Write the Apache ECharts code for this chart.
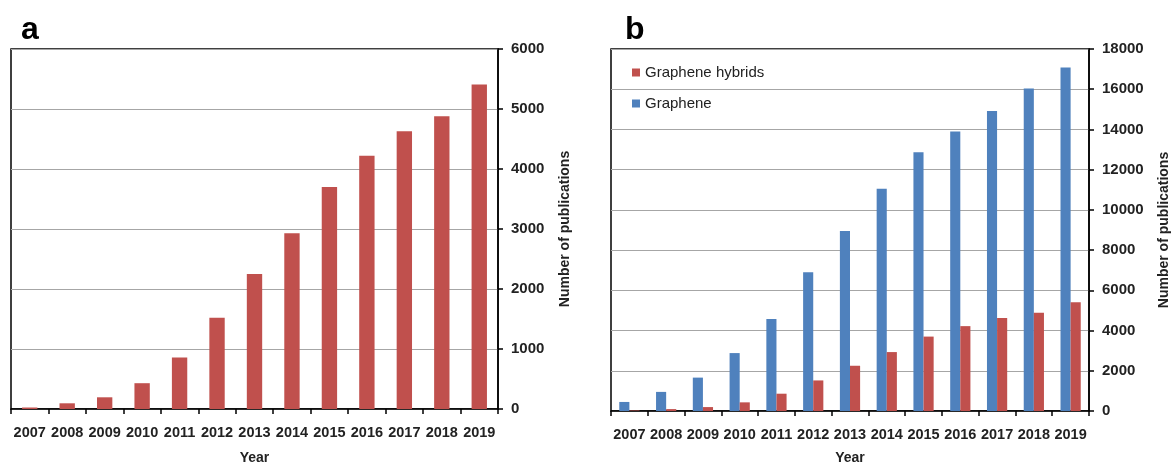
<!DOCTYPE html>
<html>
<head>
<meta charset="utf-8">
<script src="https://cdn.jsdelivr.net/npm/echarts@6/dist/echarts.min.js"></script>
<style>
html,body{margin:0;padding:0;background:#fff;}
#chart{width:1174px;height:463px;}
</style>
</head>
<body>
<div id="chart"></div>
<script>
const years = ['2007','2008','2009','2010','2011','2012','2013','2014','2015','2016','2017','2018','2019'];
const hybrids = [25, 95, 195, 430, 860, 1520, 2250, 2930, 3700, 4220, 4630, 4880, 5410];
const graphene = [450, 950, 1660, 2880, 4570, 6900, 8950, 11050, 12870, 13900, 14920, 16030, 17080];
const yTicksA = {min: 0, max: 6000, interval: 1000};
const yTicksB = {min: 0, max: 18000, interval: 2000};

const RED = '#C0504D', BLUE = '#4F81BD';
const FONT = 'Liberation Sans';

function xAxis(gi, nameGap) {
  return {
    type: 'category', gridIndex: gi, data: years,
    name: 'Year', nameLocation: 'middle', nameGap: nameGap,
    nameTextStyle: {fontFamily: FONT, fontWeight: 'bold', fontSize: 14, color: '#222'},
    axisLine: {lineStyle: {color: '#000', width: 1.5}},
    axisTick: {show: true, length: 5, interval: 0, lineStyle: {color: '#000', width: 1.5}},
    axisLabel: {interval: 0, margin: 16, fontFamily: FONT, fontWeight: 'bold', fontSize: 14.5, color: '#222'}
  };
}
function yAxis(gi, t, gap) {
  return {
    type: 'value', gridIndex: gi, position: 'right', min: t.min, max: t.max, interval: t.interval,
    name: 'Number of publications', nameLocation: 'middle', nameRotate: 90, nameGap: gap,
    nameTextStyle: {fontFamily: FONT, fontWeight: 'bold', fontSize: 14, color: '#222'},
    axisLine: {show: true, lineStyle: {color: '#000', width: 1.5}},
    axisTick: {show: true, length: 5, lineStyle: {color: '#000', width: 1.5}},
    axisLabel: {margin: 13, fontFamily: FONT, fontWeight: 'bold', fontSize: 15, color: '#222',
                formatter: v => String(v)},
    splitLine: {show: true, lineStyle: {color: '#a6a6a6', width: 1}}
  };
}

const chart = echarts.init(document.getElementById('chart'));
chart.setOption({
  animation: false,
  backgroundColor: '#fff',
  title: [
    {text: 'a', left: 16, top: 9, textStyle: {fontFamily: FONT, fontWeight: 'bold', fontSize: 32, color: '#000'}},
    {text: 'b', left: 620, top: 9, textStyle: {fontFamily: FONT, fontWeight: 'bold', fontSize: 32, color: '#000'}}
  ],
  legend: {
    orient: 'vertical', left: 627, top: 60, itemWidth: 8, itemHeight: 8, itemGap: 16,
    data: [{name: 'Graphene hybrids', icon: 'rect'}, {name: 'Graphene', icon: 'rect'}],
    textStyle: {fontFamily: FONT, fontSize: 15, color: '#222'}
  },
  grid: [
    {left: 11, right: 676, top: 49, bottom: 54, show: true, borderColor: '#000', borderWidth: 1.5,
     containLabel: false, outerBoundsMode: 'none'},
    {left: 611, right: 85, top: 49, bottom: 52, show: true, borderColor: '#000', borderWidth: 1.5,
     containLabel: false, outerBoundsMode: 'none'}
  ],
  xAxis: [xAxis(0, 42), xAxis(1, 40)],
  yAxis: [yAxis(0, yTicksA, 60), yAxis(1, yTicksB, 68)],
  series: [
    {name: 'Hybrids A', type: 'bar', xAxisIndex: 0, yAxisIndex: 0, data: hybrids,
     barCategoryGap: '59%', itemStyle: {color: RED}},
    {name: 'Graphene', type: 'bar', xAxisIndex: 1, yAxisIndex: 1, data: graphene,
     barGap: '0%', barCategoryGap: '45%', itemStyle: {color: BLUE}},
    {name: 'Graphene hybrids', type: 'bar', xAxisIndex: 1, yAxisIndex: 1, data: hybrids,
     barGap: '0%', barCategoryGap: '45%', itemStyle: {color: RED}}
  ]
});
</script>
</body>
</html>
